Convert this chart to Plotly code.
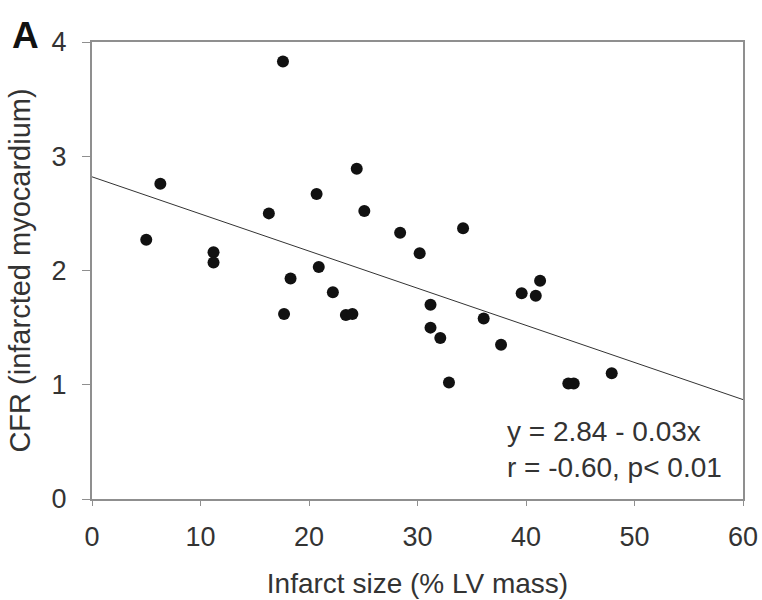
import plotly.graph_objects as go

infarct_size = [5.0, 6.3, 11.2, 11.2, 16.3, 17.6, 17.7, 18.3, 20.7, 20.9, 22.2,
                23.4, 24.0, 24.4, 25.1, 28.4, 30.2, 31.2, 31.2, 32.1, 32.9,
                34.2, 36.1, 37.7, 39.6, 40.9, 41.3, 43.9, 44.4, 47.9]
cfr = [2.27, 2.76, 2.16, 2.07, 2.50, 3.83, 1.62, 1.93, 2.67, 2.03, 1.81,
       1.61, 1.62, 2.89, 2.52, 2.33, 2.15, 1.70, 1.50, 1.41, 1.02,
       2.37, 1.58, 1.35, 1.80, 1.78, 1.91, 1.01, 1.01, 1.10]
reg_x = [0, 60]
reg_y = [2.82, 0.87]
x_ticks = [0, 10, 20, 30, 40, 50, 60]
y_ticks = [0, 1, 2, 3, 4]

FONT = "Liberation Sans, Arial, sans-serif"
GRAY = "#8f8f8f"
TXT = "#333333"

W, H = 762, 600
L, R, T, B = 92, 19, 42, 101
PW, PH = W - L - R, H - T - B

fig = go.Figure()
fig.add_trace(go.Scatter(x=reg_x, y=reg_y, mode="lines",
                         line=dict(color="#333333", width=1), showlegend=False,
                         hoverinfo="skip"))
fig.add_trace(go.Scatter(x=infarct_size, y=cfr, mode="markers",
                         marker=dict(color="#111111", size=12),
                         showlegend=False))

fig.update_layout(
    width=W, height=H,
    margin=dict(l=L, r=R, t=T, b=B),
    paper_bgcolor="white", plot_bgcolor="white",
    font=dict(family=FONT, color=TXT),
    xaxis=dict(range=[0, 60], tickvals=x_ticks, showgrid=False, zeroline=False,
               automargin=False, ticklabeloverflow="allow",
               showline=True, linecolor=GRAY, linewidth=2, mirror=True,
               ticks="outside", ticklen=5, tickcolor=GRAY, tickwidth=1,
               ticklabelstandoff=8,
               tickfont=dict(size=27, family=FONT, color=TXT),
               title=dict(text="Infarct size (% LV mass)", standoff=22,
                          font=dict(size=28, family=FONT, color=TXT))),
    yaxis=dict(range=[0, 4], tickvals=y_ticks, showgrid=False, zeroline=False,
               automargin=False, ticklabeloverflow="allow",
               showline=True, linecolor=GRAY, linewidth=2, mirror=True,
               ticks="outside", ticklen=8, tickcolor=GRAY, tickwidth=1,
               ticklabelstandoff=10,
               tickfont=dict(size=27, family=FONT, color=TXT),
               title=dict(text="CFR (infarcted myocardium)", standoff=12,
                          font=dict(size=29, family=FONT, color=TXT))),
)

fig.add_annotation(xref="paper", yref="paper", x=(505 - 92) / PW, y=(499 - 449) / PH,
                   xanchor="left", yanchor="middle", showarrow=False, align="left",
                   text="y = 2.84 - 0.03x<br>r = -0.60, p< 0.01",
                   font=dict(size=28, family=FONT, color=TXT))
fig.add_annotation(xref="paper", yref="paper", x=(10 - 92) / PW, y=(499 - 35) / PH,
                   xanchor="left", yanchor="middle", showarrow=False,
                   text="<b>A</b>", font=dict(size=37, family=FONT, color="#111111"))

fig.write_html(
    "out.html",
    config={"displayModeBar": False},
    post_script="document.body.style.margin='0';"
                "document.documentElement.style.overflow='hidden';",
)
